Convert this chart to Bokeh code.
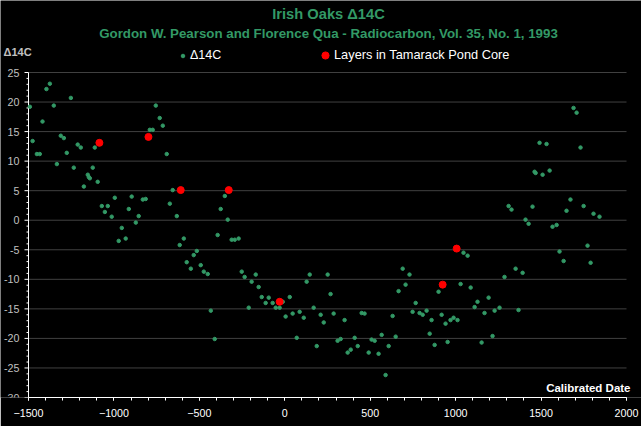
import math
from bokeh.plotting import figure
from bokeh.models import (Range1d, Label, Legend, LegendItem, SingleIntervalTicker,
                          ColumnDataSource)
from bokeh.embed import file_html
from bokeh.resources import INLINE

# Irish oak tree-ring radiocarbon record (calibrated year, delta 14C per mil)
oak_year = [-1492, -1476, -1451, -1434, -1418, -1395, -1375, -1352, -1334, -1311,
            -1293, -1276, -1252, -1235, -1212, -1194, -1176, -1153, -1147, -1141,
            -1124, -1112, -1095, -1071, -1053, -1036, -1013, -995, -972, -954,
            -931, -913, -896, -872, -855, -831, -814, -790, -773, -755,
            -732, -714, -691, -673, -656, -632, -615, -591, -574, -550,
            -533, -515, -492, -474, -451, -433, -410, -393, -375, -351,
            -334, -311, -293, -270, -252, -235, -211, -194, -170, -153,
            -135, -112, -94, -71, -53, -30, -12, 5, 29, 46,
            70, 87, 111, 128, 146, 169, 187, 210, 228, 251,
            268, 286, 309, 327, 350, 368, 386, 409, 427, 450,
            467, 491, 508, 526, 549, 567, 590, 608, 631, 649,
            666, 690, 707, 730, 748, 766, 789, 807, 830, 848,
            859, 877, 900, 918, 941, 953, 970, 988, 1011, 1029,
            1046, 1070, 1088, 1111, 1128, 1152, 1169, 1193, 1216, 1228,
            1257, 1286, 1310, 1327, 1351, 1368, 1392, 1409, 1427, 1450,
            1462, 1468, 1491, 1509, 1532, 1550, 1567, 1591, 1608, 1632,
            1649, 1672, 1690, 1708, 1731, 1749, 1772, 1790, 1807, 1842]
oak_d14c = [19.2, 13.4, 11.2, 11.2, 16.7, 22.2, 23.1, 19.4, 9.5, 14.3,
            13.9, 11.4, 20.7, 8.9, 12.8, 12.3, 5.7, 7.7, 7.3, 7.1,
            8.9, 12.3, 6.5, 2.4, 1.4, 2.4, 0.6, 3.8, -3.5, -1.3,
            -3.1, 1.9, 4.0, -0.4, 0.7, 3.5, 3.6, 15.3, 15.3, 19.4,
            17.3, 16.0, 11.2, 2.8, 5.1, 0.7, -4.2, -3.1, -7.1, -8.2,
            -5.9, -5.2, -7.6, -8.7, -9.1, -15.3, -20.1, -2.5, 1.9, 4.1,
            0.1, -3.3, -3.3, -3.1, -8.7, -9.6, -14.8, -10.4, -9.2, -11.3,
            -13.0, -14.0, -13.1, -14.0, -14.8, -14.8, -13.8, -16.3, -13.0, -15.8,
            -19.9, -15.5, -16.5, -10.4, -9.2, -14.8, -21.3, -16.0, -17.3, -9.2,
            -12.5, -15.8, -20.4, -20.1, -16.9, -22.4, -21.9, -19.9, -21.3, -15.7,
            -15.8, -22.4, -20.2, -20.4, -22.6, -19.4, -26.2, -21.3, -16.2, -19.7,
            -12.0, -8.2, -10.9, -9.2, -15.5, -14.0, -15.7, -16.0, -15.3, -19.2,
            -16.9, -21.1, -12.1, -16.0, -17.5, -20.6, -16.9, -16.5, -16.9, -10.8,
            -5.5, -6.0, -11.4, -14.7, -13.8, -20.7, -15.7, -13.1, -19.6, -15.3,
            -14.8, -9.6, 2.4, 1.8, -8.2, -15.2, -8.9, 0.1, -0.6, 2.3,
            8.2, 8.0, 13.1, 7.7, 12.9, 8.4, -1.1, -0.8, -5.3, -6.9,
            1.6, 3.5, 19.0, 18.2, 12.3, 2.4, -4.3, -7.2, 1.1, 0.6]

# Dated layers from the Tamarack Pond sediment core
core_year = [-1085, -798, -609, -328, -30, 924, 1006]
core_d14c = [13.1, 14.1, 5.1, 5.1, -13.8, -10.9, -4.8]

# value axis: major ticks with labels, unlabelled minor ticks in between
y_major = [-30, -25, -20, -15, -10, -5, 0, 5, 10, 15, 20, 25]
y_major_labels = [str(v) for v in y_major]
y_minor = [v for v in range(-30, 26) if v % 5 != 0]
y_grid = y_major[1:]

series_names = ["Δ14C", "Layers in Tamarack Pond Core"]
title_text = "Irish Oaks Δ14C"
subtitle_text = "Gordon W. Pearson and Florence Qua - Radiocarbon, Vol. 35, No. 1, 1993"

GREEN = "#339966"
RED = "#ff0000"
FONT = "Liberation Sans"

# canvas geometry (pixels) of the plotting area
W, H = 641, 426
AREA_L, AREA_R, AREA_T, AREA_B = 28, 626, 72, 397
X_LO, X_HI = -1500, 2000
Y_LO, Y_HI = -30, 25

# The frame spans the whole canvas above the date axis, so the captions,
# legend and value axis can all be drawn inside it; the ranges are widened
# so the data area keeps its place.
kx = (AREA_R - AREA_L) / (X_HI - X_LO)
ky = (AREA_B - AREA_T) / (Y_HI - Y_LO)
x_range = Range1d(X_LO - AREA_L / kx, X_HI + (W - AREA_R) / kx)
y_range = Range1d(Y_LO, Y_HI + AREA_T / ky)

p = figure(width=W, height=H, output_backend="svg", toolbar_location=None,
           x_range=x_range, y_range=y_range, y_axis_type=None,
           min_border_left=0, min_border_right=0, min_border_top=0,
           min_border_bottom=H - AREA_B,
           background_fill_color="black", border_fill_color="black",
           outline_line_color=None)

# date axis along the bottom
xa = p.xaxis[0]
xa.bounds = (X_LO, X_HI)
xa.ticker = SingleIntervalTicker(interval=500, num_minor_ticks=5)
xa.axis_line_color = "white"
xa.major_tick_line_color = "white"
xa.minor_tick_line_color = "white"
xa.major_tick_in = 0
xa.minor_tick_in = 0
xa.major_tick_out = 3
xa.minor_tick_out = 3
xa.major_label_text_font = FONT
xa.major_label_text_font_size = "10.7px"
xa.major_label_text_color = "white"
xa.major_label_standoff = 8
p.xgrid.grid_line_color = None

# horizontal grid lines across the data area
p.segment(x0=X_LO, x1=X_HI, y0=y_grid, y1=y_grid, line_color="#404040", line_width=1)

# value axis: line, ticks and labels
p.segment(x0=[X_LO], x1=[X_LO], y0=[Y_LO], y1=[Y_HI], line_color="white", line_width=1)
p.ray(x=X_LO, y=y_major, length=4, angle=math.pi, length_units="screen",
      line_color="white", line_width=1)
p.ray(x=X_LO, y=y_minor, length=2, angle=math.pi, length_units="screen",
      line_color="white", line_width=1)
p.text(x=X_LO, y=y_major, text=y_major_labels, x_offset=-9,
       text_align="right", text_baseline="middle", text_font={"value": FONT},
       text_font_size="10.7px", text_color="#c0c0c0")

# data
oak_src = ColumnDataSource(dict(x=oak_year, y=oak_d14c))
core_src = ColumnDataSource(dict(x=core_year, y=core_d14c))
r_oak = p.scatter("x", "y", source=oak_src, size=3.5, marker="circle",
                  fill_color=GREEN, line_color=GREEN)
r_core = p.scatter("x", "y", source=core_src, size=7, marker="circle",
                   fill_color=RED, line_color=RED)


def sy(canvas_y):
    """Vertical screen position measured from the frame bottom."""
    return AREA_B - canvas_y


def make_legend(label, renderer, left, center_y, glyph_w, row_h, standoff, font_size):
    # legend markers are drawn at 0.4 of the smaller glyph-box side
    return Legend(items=[LegendItem(label=label, renderers=[renderer])],
                  location=(left, sy(center_y + row_h / 2)), orientation="horizontal",
                  background_fill_alpha=0, border_line_color=None,
                  label_text_color="white", label_text_font=FONT,
                  label_text_font_size=font_size, padding=0, margin=0,
                  glyph_width=glyph_w, glyph_height=row_h, label_height=row_h,
                  label_standoff=standoff)


p.add_layout(make_legend(series_names[0], r_oak, 178, 55, 9, 15, 3, "12.5px"), "center")
p.add_layout(make_legend(series_names[1], r_core, 316, 54.5, 18, 18, 0, "12.8px"), "center")

p.add_layout(Label(x=328, y=sy(13), x_units="screen", y_units="screen",
                   text=title_text, text_align="center", text_baseline="middle",
                   text_font=FONT, text_font_size="14.7px", text_font_style="bold",
                   text_color=GREEN))
p.add_layout(Label(x=328, y=sy(33), x_units="screen", y_units="screen",
                   text=subtitle_text, text_align="center", text_baseline="middle",
                   text_font=FONT, text_font_size="13.3px", text_font_style="bold",
                   text_color=GREEN))
p.add_layout(Label(x=3, y=sy(51), x_units="screen", y_units="screen",
                   text="Δ14C", text_align="left", text_baseline="middle",
                   text_font=FONT, text_font_size="11px", text_font_style="bold",
                   text_color="#c0c0c0"))
p.add_layout(Label(x=630, y=sy(387), x_units="screen", y_units="screen",
                   text="Calibrated Date", text_align="right", text_baseline="middle",
                   text_font=FONT, text_font_size="11.5px", text_font_style="bold",
                   text_color="white"))

open("out.html", "w").write(file_html(p, INLINE))
